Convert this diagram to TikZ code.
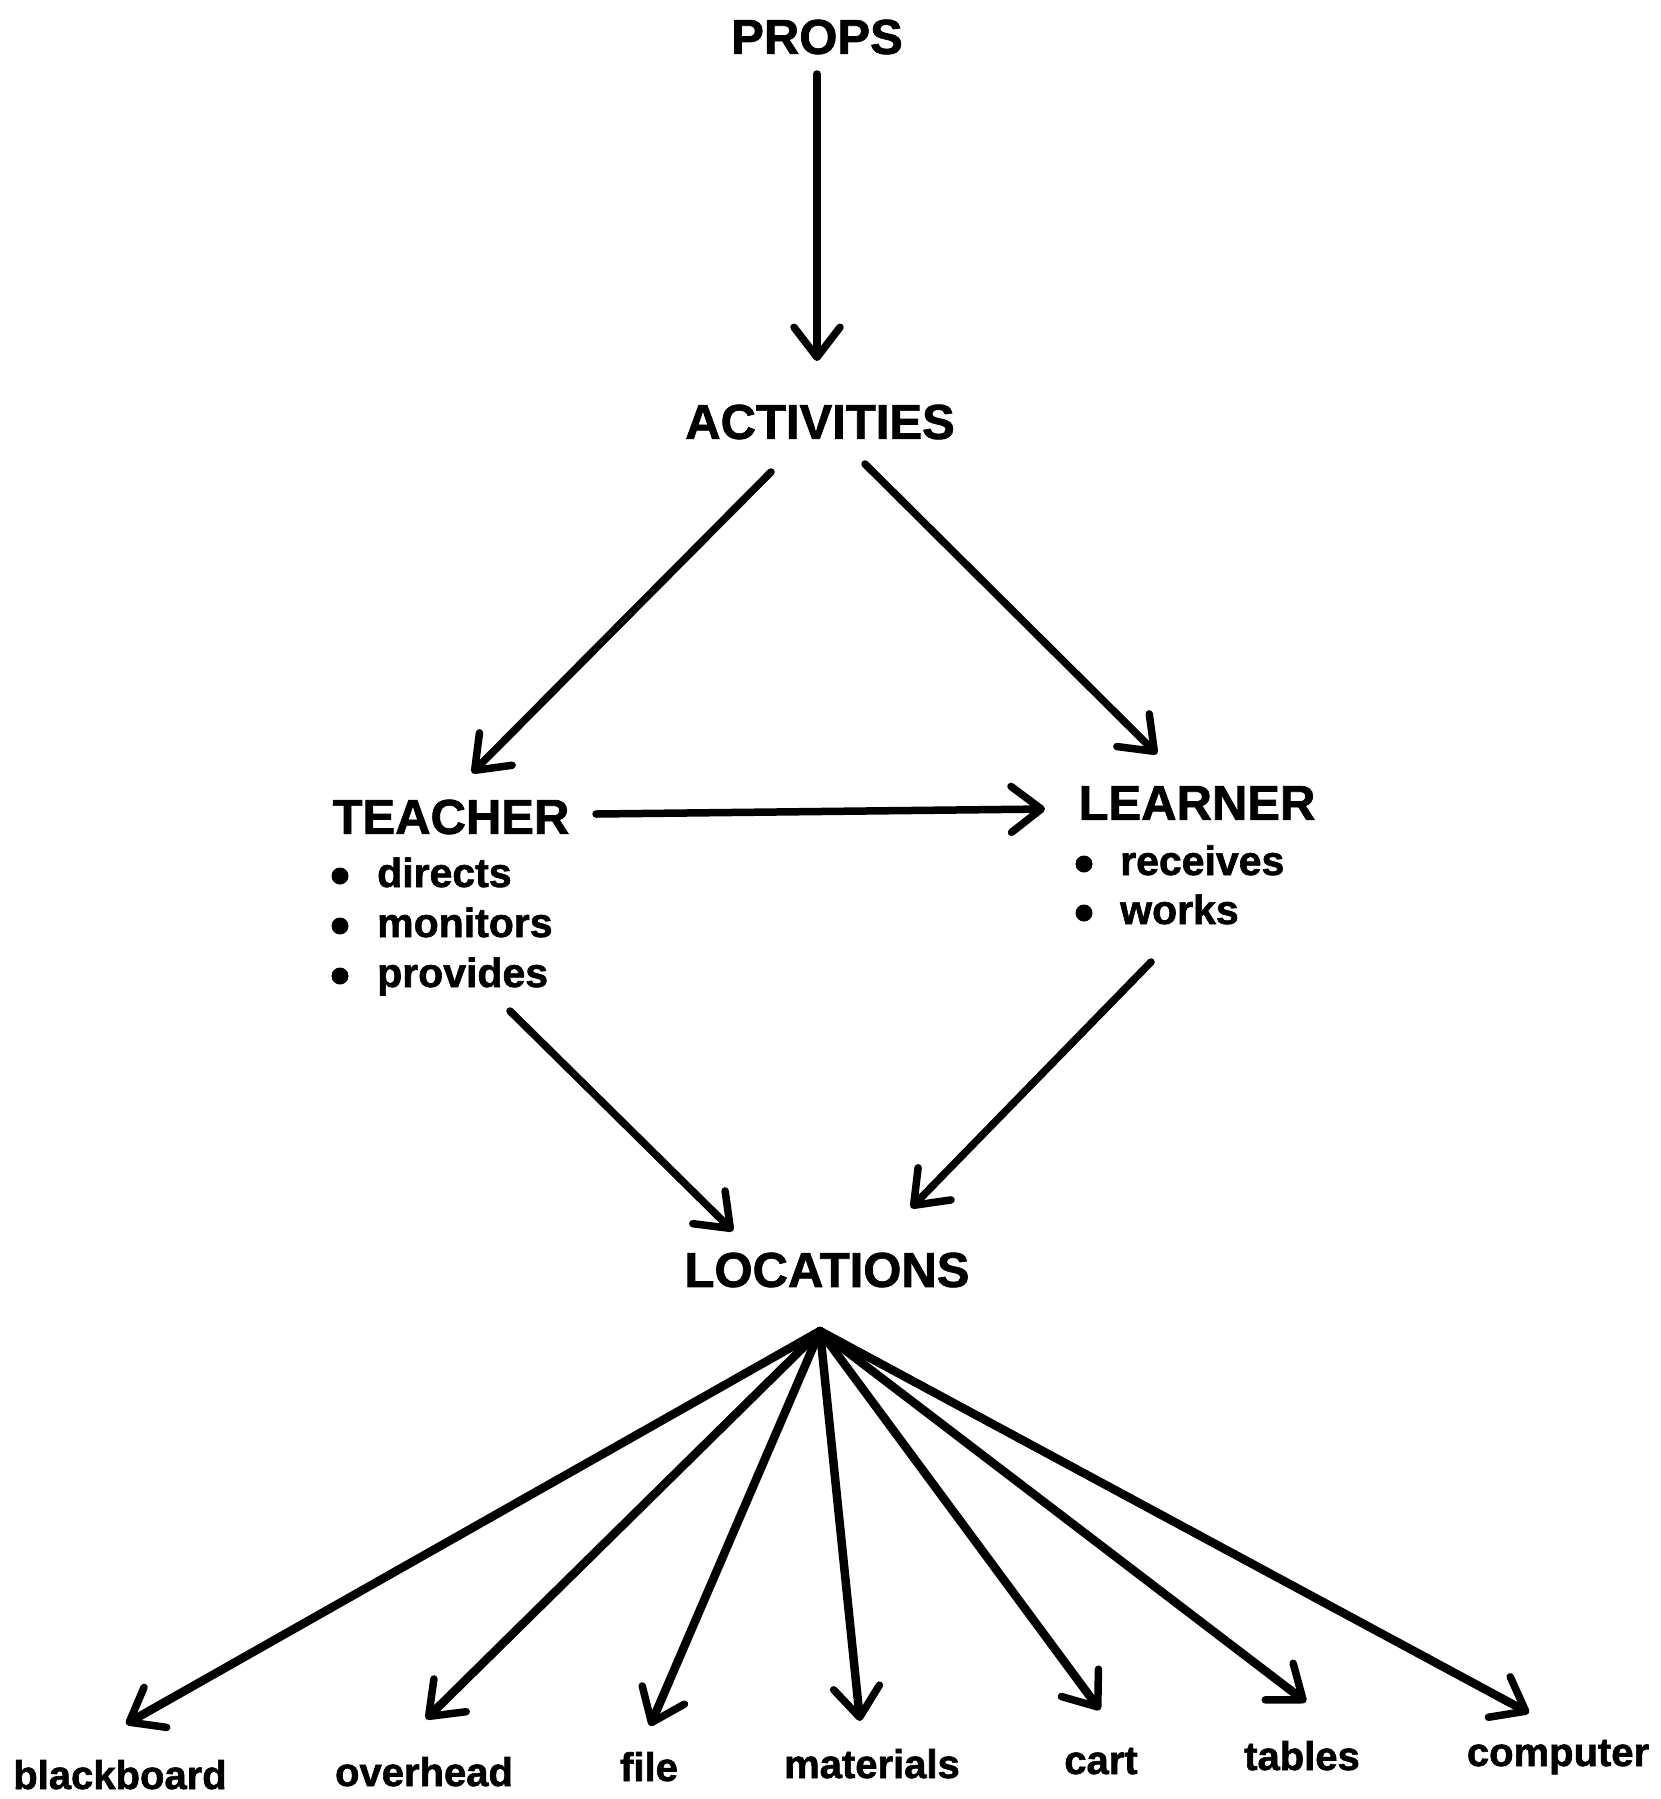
\documentclass[tikz,border=0pt]{standalone}
\usepackage{fontspec}
\setmainfont{Liberation Sans}[BoldFeatures={FakeBold=1.5}]
\usetikzlibrary{arrows.meta}
\begin{document}
\begin{tikzpicture}[x=1pt,y=-1pt,
  head/.style={font=\fontsize{49}{49}\selectfont\bfseries, inner sep=0pt},
  item/.style={font=\fontsize{41}{41}\selectfont\bfseries, inner sep=0pt, anchor=base west},
  lab/.style={font=\fontsize{40}{40}\selectfont\bfseries, inner sep=0pt, anchor=base},
  arr/.style={line width=7.5pt, line cap=round, line join=round,
    -{Straight Barb[length=30pt,width=46pt,line width=7.5pt,round]}},
  fanarr/.style={arr, line width=8.5pt},
  bul/.style={fill=black}]
\useasboundingbox (0,0) rectangle (1661,1799);

% main nodes
\node[head] (props) at (817,37) {PROPS};
\node[head] (act) at (820,422) {ACTIVITIES};
\node[head] (teacher) at (451,817) {TEACHER};
\node[head] (learner) at (1197,803) {LEARNER};
\node[head] (loc) at (827,1270) {LOCATIONS};

% teacher items
\fill[bul] (340,876) circle[radius=8.5pt];
\fill[bul] (340,926) circle[radius=8.5pt];
\fill[bul] (340,976) circle[radius=8.5pt];
\node[item] (t1) at (377,887) {directs};
\node[item] (t2) at (377,937) {monitors};
\node[item] (t3) at (377,987) {provides};

% learner items
\fill[bul] (1084,864) circle[radius=8.5pt];
\fill[bul] (1084,913) circle[radius=8.5pt];
\node[item] (l1) at (1120,875) {receives};
\node[item] (l2) at (1120,924) {works};

% bottom labels
\node[lab] (bb)  at (120,1789) {blackboard};
\node[lab] (oh)  at (424,1786) {overhead};
\node[lab] (fi)  at (649,1781) {file};
\node[lab] (ma)  at (872,1778) {materials};
\node[lab] (ca)  at (1101,1774) {cart};
\node[lab] (ta)  at (1302,1770) {tables};
\node[lab] (co)  at (1558,1766) {computer};

% connector end points
\coordinate (a1s) at (817,74);   \coordinate (a1e) at (817,361);
\coordinate (a2s) at (771,472);  \coordinate (a2e) at (472,773);
\coordinate (a3s) at (865,464);  \coordinate (a3e) at (1157,754);
\coordinate (a4s) at (596,814);  \coordinate (a4e) at (1045,809);
\coordinate (a5s) at (510,1011); \coordinate (a5e) at (733,1231);
\coordinate (a6s) at (1151,962); \coordinate (a6e) at (911,1208);
\coordinate (fan) at (820,1331);
\coordinate (tbb) at (126,1724);
\coordinate (toh) at (426,1719);
\coordinate (tfi) at (650,1726);
\coordinate (tma) at (860,1721);
\coordinate (tca) at (1100,1710);
\coordinate (tta) at (1306,1702);
\coordinate (tco) at (1529,1713);

\draw[arr] (a1s) -- (a1e);
\draw[arr] (a2s) -- (a2e);
\draw[arr] (a3s) -- (a3e);
\draw[arr] (a4s) -- (a4e);
\draw[arr] (a5s) -- (a5e);
\draw[arr] (a6s) -- (a6e);
\foreach \t in {tbb,toh,tfi,tma,tca,tta,tco}
  \draw[fanarr] (fan) -- (\t);
\end{tikzpicture}
\end{document}
